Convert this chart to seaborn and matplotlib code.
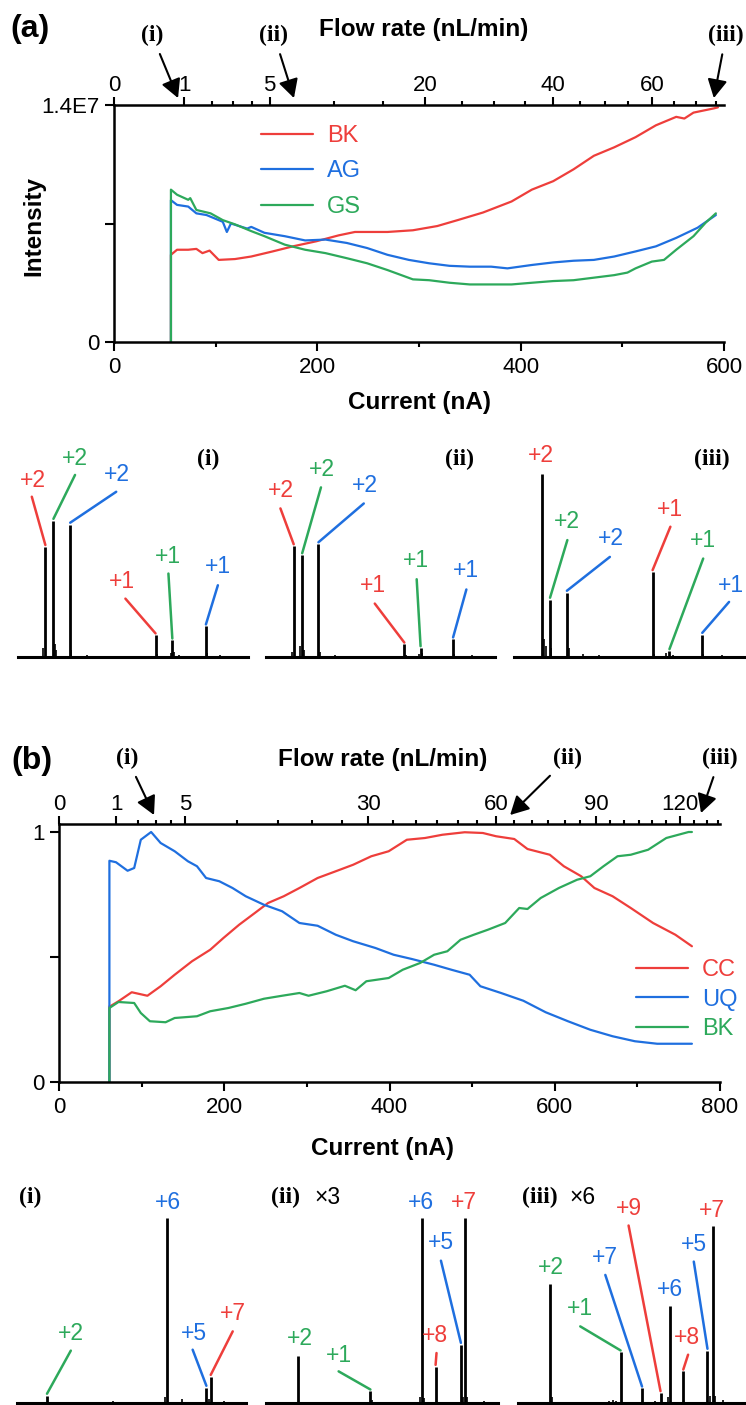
import numpy as np
import pandas as pd
import matplotlib
matplotlib.use("Agg")
import matplotlib.pyplot as plt
import seaborn as sns

# ------------------------------------------------------------------ data
# flow-rate calibration: current (nA) at which each flow value (nL/min) falls
flow_cal = [0, 1, 2, 3, 4, 5, 10, 15, 20, 25, 30, 35, 40, 45, 50, 55, 60, 65, 70,
            75, 80, 85, 90, 95, 100, 105, 110, 115, 120, 125, 130, 135]
current_cal = [0, 69, 96, 117, 136, 153, 216, 265, 306, 342, 374, 404, 432, 458, 483,
               506, 529, 551, 572, 592, 613, 631, 650, 667, 684, 702, 718, 735, 752,
               769, 784, 798]
flow_major_a = [0, 1, 5, 20, 40, 60]
flow_major_b = [0, 1, 5, 30, 60, 90, 120]

# panel (a): intensity (x1e6) vs current (nA)
a_series = ["BK", "AG", "GS"]
a_bk_cur = [56, 56, 62, 73, 81, 87, 94, 103, 119, 135, 156, 176, 199, 221, 237, 269, 294,
            318, 338, 363, 391, 411, 432, 452, 472, 492, 513, 533, 553, 561, 570, 590, 594]
a_bk_int = [0, 5.15, 5.45, 5.45, 5.5, 5.25, 5.4, 4.85, 4.9, 5.05, 5.35, 5.65, 5.95, 6.3, 6.5,
            6.5, 6.6, 6.85, 7.2, 7.65, 8.3, 9.0, 9.5, 10.2, 11.0, 11.5, 12.1, 12.8, 13.3,
            13.2, 13.55, 13.8, 13.86]
a_ag_cur = [56, 56, 62, 73, 81, 91, 107, 111, 115, 131, 135, 148, 168, 188, 208, 229, 249,
            269, 290, 310, 330, 350, 371, 387, 411, 432, 452, 472, 492, 513, 533, 553, 574, 592]
a_ag_int = [0, 8.38, 8.1, 8.0, 7.6, 7.5, 7.1, 6.5, 7.0, 6.7, 6.8, 6.45, 6.25, 6.0, 6.05, 5.85,
            5.55, 5.15, 4.85, 4.65, 4.5, 4.45, 4.45, 4.35, 4.55, 4.7, 4.8, 4.85, 5.05, 5.35,
            5.65, 6.15, 6.75, 7.5]
a_gs_cur = [56, 56, 62, 73, 75, 81, 95, 107, 119, 135, 148, 168, 188, 208, 229, 249, 269, 294,
            310, 330, 350, 371, 391, 411, 432, 452, 472, 492, 505, 513, 529, 541, 553, 570,
            582, 592]
a_gs_int = [0, 9.0, 8.7, 8.4, 8.5, 7.8, 7.6, 7.2, 6.95, 6.55, 6.25, 5.75, 5.45, 5.25, 4.95,
            4.65, 4.25, 3.7, 3.65, 3.5, 3.4, 3.4, 3.4, 3.5, 3.6, 3.65, 3.8, 3.95, 4.1, 4.35,
            4.75, 4.85, 5.45, 6.25, 7.05, 7.6]

# panel (b): normalised intensity vs current (nA)
b_series = ["CC", "UQ", "BK"]
b_cc_cur = [61, 61, 62, 72, 88, 107, 123, 140, 161, 183, 199, 218, 237, 253, 272, 291, 313,
            335, 356, 378, 399, 421, 443, 464, 491, 513, 529, 551, 567, 594, 611, 632, 648,
            670, 692, 719, 746, 766]
b_cc_val = [0, 0.303, 0.303, 0.323, 0.359, 0.345, 0.383, 0.429, 0.483, 0.529, 0.576, 0.629,
            0.676, 0.716, 0.743, 0.776, 0.816, 0.843, 0.869, 0.903, 0.923, 0.969, 0.976,
            0.989, 0.999, 0.996, 0.983, 0.972, 0.932, 0.909, 0.863, 0.823, 0.776, 0.743,
            0.696, 0.636, 0.589, 0.543]
b_uq_cur = [61, 61, 69, 83, 91, 99, 111.5, 123, 140, 156, 167, 178, 194, 210, 226, 248, 270,
            291, 313, 335, 356, 383, 405, 427, 454, 475, 497, 510, 535, 562, 589, 616, 643,
            670, 697, 724, 766]
b_uq_val = [0, 0.885, 0.879, 0.845, 0.856, 0.969, 1.0, 0.956, 0.923, 0.883, 0.863, 0.816,
            0.803, 0.776, 0.743, 0.709, 0.683, 0.636, 0.625, 0.589, 0.563, 0.536, 0.509,
            0.492, 0.469, 0.449, 0.429, 0.383, 0.356, 0.325, 0.279, 0.243, 0.209, 0.183,
            0.163, 0.153, 0.153]
b_bk_cur = [61, 61, 72, 91, 99, 110, 129, 140, 167, 183, 205, 226, 248, 270, 291, 302, 324,
            346, 359, 372, 399, 416, 437, 454, 470, 486, 502, 519, 540, 557, 567, 583, 605,
            627, 643, 659, 676, 692, 713, 735, 762, 766]
b_bk_val = [0, 0.296, 0.32, 0.316, 0.276, 0.243, 0.239, 0.256, 0.263, 0.283, 0.296, 0.313,
            0.333, 0.345, 0.356, 0.345, 0.363, 0.385, 0.367, 0.403, 0.416, 0.449, 0.476,
            0.509, 0.523, 0.569, 0.589, 0.609, 0.636, 0.696, 0.692, 0.736, 0.776, 0.809,
            0.823, 0.863, 0.903, 0.909, 0.929, 0.976, 1.0, 1.0]

# mass spectra (relative m/z 0-1000, relative intensity; 100 = tallest peak of the row)
sa1_mz = [119, 154, 227, 598, 671, 817]
sa1_int = [60.2, 74.5, 72.4, 11.9, 9.1, 16.8]
sa1_lab = ["+2", "+2", "+2", "+1", "+1", "+1"]
sa1_sp = ["r", "g", "b", "r", "g", "b"]
sa1_minor_mz = [110, 160, 166, 232, 300, 605, 665, 678, 700, 822, 880]
sa1_minor_int = [5, 7, 4, 4, 1, 1.5, 2, 3, 1, 2, 1]

sa2_mz = [121, 158, 229, 604, 675, 817]
sa2_int = [60.6, 55.7, 61.7, 6.9, 4.9, 9.7]
sa2_lab = ["+2", "+2", "+2", "+1", "+1", "+1"]
sa2_sp = ["r", "g", "b", "r", "g", "b"]
sa2_minor_mz = [112, 150, 164, 234, 300, 610, 668, 682, 822, 900]
sa2_minor_int = [3, 6, 4, 3, 1, 1, 1.5, 2, 1.5, 1]

sa3_mz = [121, 156, 229, 600, 673, 815]
sa3_int = [100, 31.4, 35.2, 46.5, 3.3, 12.2]
sa3_lab = ["+2", "+2", "+2", "+1", "+1", "+1"]
sa3_sp = ["r", "g", "b", "r", "g", "b"]
sa3_minor_mz = [130, 138, 162, 236, 300, 370, 606, 660, 690, 820, 900]
sa3_minor_int = [10, 6, 5, 5, 1.5, 1, 1.5, 2, 1, 1.5, 1]

sb1_mz = [131, 656, 827, 846]
sb1_int = [4.0, 100, 8.3, 14.2]
sb1_lab = ["+2", "+6", "+5", "+7"]
sb1_sp = ["g", "b", "b", "r"]
sb1_minor_mz = [200, 260, 330, 370, 420, 470, 646, 719, 838, 905]
sb1_minor_int = [0.6, 0.8, 0.6, 0.8, 0.9, 0.6, 3.0, 2.2, 2.0, 1.2]

sb2_mz = [140, 450, 671, 731, 840, 858]
sb2_int = [25.2, 6.3, 100, 19.6, 31.5, 100]
sb2_lab = ["+2", "+1", "+6", "+8", "+5", "+7"]
sb2_sp = ["g", "g", "b", "r", "b", "r"]
sb2_minor_mz = [300, 455, 540, 620, 663, 680, 850, 868, 940]
sb2_minor_int = [0.6, 1.5, 0.8, 0.6, 3.0, 2.5, 3.0, 3.0, 1.0]

sb3_mz = [140, 450, 544, 625, 667, 725, 831, 856]
sb3_int = [64.1, 27.4, 7.9, 5.4, 52.3, 17.1, 28.3, 95.9]
sb3_lab = ["+2", "+1", "+7", "+9", "+6", "+8", "+5", "+7"]
sb3_sp = ["g", "g", "b", "r", "b", "r", "b", "r"]
sb3_minor_mz = [148, 400, 415, 430, 600, 660, 840, 866, 900, 950]
sb3_minor_int = [3, 1, 1.5, 1, 1, 3, 4, 4, 1.5, 0.8]

# ------------------------------------------------------------------ layout (label placement)
sa1_txt = [(63, 96.7), (248, 108.6), (431, 100.0), (452, 41.4), (650, 54.7), (869, 49.3)]
sa1_end = [(60, 87.6), (248, 99.5), (427, 90.3), (467, 31.9), (654, 45.6), (869, 39.2)]
sa2_txt = [(64, 90.9), (244, 102.6), (431, 94.0), (465, 39.2), (656, 52.6), (875, 47.1)]
sa2_end = [(63, 81.2), (240, 92.7), (427, 83.9), (475, 29.2), (658, 42.5), (875, 36.9)]
sa3_txt = [(115, 109.9), (231, 73.9), (419, 64.8), (677, 80.7), (819, 63.9), (938, 39.2)]
sa3_end = [None, (231, 63.9), (415, 54.7), (677, 71.2), (819, 53.8), (931, 30.1)]
sb1_txt = [(235, 37.3), (660, 108.1), (771, 37.3), (942, 48.1)]
sb1_end = [(235, 28.3), None, (767, 28.8), (942, 38.7)]
sb2_txt = [(144, 35.0), (315, 25.9), (669, 108.1), (727, 36.4), (754, 86.5), (854, 108.1)]
sb2_end = [None, (313, 17.1), None, (735, 27.0), (754, 76.9), None]
sb3_txt = [(142, 73.3), (271, 50.8), (383, 78.7), (488, 104.9), (667, 61.6), (742, 35.5),
           (771, 85.9), (850, 104.0)]
sb3_end = [None, (273, 41.4), (383, 69.2), (485, 95.9), None, (746, 26.1), (771, 76.4), None]

# ------------------------------------------------------------------ style
RED, BLUE, GREEN = "#EE3E3B", "#1F6FDF", "#2DA95B"
SP = {"r": RED, "b": BLUE, "g": GREEN}
sns.set_theme(style="white", rc={"axes.edgecolor": "black", "text.color": "black",
                                 "xtick.color": "black", "ytick.color": "black",
                                 "axes.labelcolor": "black"})
plt.rcParams["font.family"] = ["Liberation Sans", "DejaVu Sans"]
SERIF = ["Liberation Serif", "DejaVu Serif"]
FS = 16        # tick labels
FS_LAB = 17.5  # bold axis titles
FS_ANN = 16.5  # charge-state labels
FS_LEG = 17
FS_ROM = 17

W, H = 746, 1405
fig = plt.figure(figsize=(W / 100, H / 100), dpi=100)


def fx(px):
    return px / W


def fy(py):
    return 1 - py / H


def box(l, t, r, b):
    return [fx(l), fy(b), (r - l) / W, (b - t) / H]


def main_panel(ax, frames, names, palette, xmax, ytop, yticks, yticklabels,
               flow_major, minor_x, major_x):
    df = pd.concat(frames, ignore_index=True)
    sns.lineplot(data=df, x="Current", y="Value", hue="Series", hue_order=names,
                 palette=palette, estimator=None, sort=False, lw=1.6, legend=False, ax=ax)
    ax.set_xlim(0, xmax)
    ax.set_ylim(0, ytop)
    ax.set_xticks(major_x)
    ax.set_xticks(minor_x, minor=True)
    ax.set_yticks(yticks)
    ax.set_yticklabels(yticklabels)
    ax.set_ylabel("")
    for s in ["top", "right"]:
        ax.spines[s].set_visible(False)
    for s in ["left", "bottom"]:
        ax.spines[s].set_linewidth(1.8)
    ax.tick_params(which="major", direction="out", length=6.5, width=1.5, labelsize=FS,
                   pad=4, bottom=True, left=True)
    ax.tick_params(which="minor", direction="out", length=3.5, width=1.5, bottom=True)
    # secondary flow-rate axis on top
    top = ax.twiny()
    top.set_xlim(0, xmax)
    maj = np.interp(flow_major, flow_cal, current_cal)
    mins = [np.interp(f, flow_cal, current_cal) for f in flow_cal if f not in flow_major]
    mins = [m for m in mins if m <= xmax]
    top.set_xticks(maj)
    top.set_xticklabels([str(f) for f in flow_major])
    top.set_xticks(mins, minor=True)
    for s in ["left", "right", "bottom"]:
        top.spines[s].set_visible(False)
    top.spines["top"].set_linewidth(1.8)
    top.tick_params(axis="x", which="major", direction="out", length=6, width=1.5,
                    labelsize=FS, pad=0.5, top=True, bottom=False, labeltop=True)
    top.tick_params(axis="x", which="minor", direction="out", length=3, width=1.5,
                    top=True, bottom=False)
    top.grid(False)
    ax.grid(False)
    return top


def spectrum(ax, mz, inten, minor_mz, minor_int, labels, species, txt, ends, ytop):
    ax.vlines(minor_mz, 0, minor_int, color="black", lw=1.2)
    ax.vlines(mz, 0, inten, color="black", lw=2.0)
    for i, (lab, sp, (tx, ty), e) in enumerate(zip(labels, species, txt, ends)):
        ax.text(tx, ty, lab, color=SP[sp], ha="center", va="center", fontsize=FS_ANN)
        if e is not None:
            ax.plot([mz[i], e[0]], [inten[i] + 1, e[1]], color=SP[sp], lw=1.8)
    ax.set_xlim(0, 1000)
    ax.set_ylim(0, ytop)
    ax.set_xticks([])
    ax.set_yticks([])
    for s in ["top", "left", "right"]:
        ax.spines[s].set_visible(False)
    ax.spines["bottom"].set_linewidth(2.2)
    ax.set_facecolor("none")


def frame(cur, val, name):
    return pd.DataFrame({"Current": cur, "Value": val, "Series": name})


# ------------------------------------------------------------------ panel (a)
ax_a = fig.add_axes(box(114, 105, 724, 342))
top_a = main_panel(ax_a,
                   [frame(a_bk_cur, a_bk_int, "BK"), frame(a_ag_cur, a_ag_int, "AG"),
                    frame(a_gs_cur, a_gs_int, "GS")],
                   a_series, {"BK": RED, "AG": BLUE, "GS": GREEN}, 600, 14,
                   [0, 7, 14], ["0", "", "1.4E7"], flow_major_a,
                   [100, 300, 500], [0, 200, 400, 600])
ax_a.set_xlabel("Current (nA)", fontsize=FS_LAB, weight="bold")
ax_a.xaxis.set_label_coords(0.5, -0.205)
ax_a.set_ylabel("Intensity", fontsize=FS_LAB, weight="bold")
ax_a.yaxis.set_label_coords(-0.112, 0.49)
top_a.set_xlabel("Flow rate (nL/min)", fontsize=FS_LAB, weight="bold")
top_a.xaxis.set_label_coords(0.507, 1.29)
ax_a.legend(ax_a.get_lines()[:3], a_series, loc="upper left",
            bbox_to_anchor=(fx(261), fy(125)), bbox_transform=fig.transFigure,
            frameon=False, labelcolor="linecolor", handlelength=2.2, handletextpad=0.6,
            labelspacing=0.57, borderpad=0, borderaxespad=0, fontsize=FS_LEG)

arrow_kw = dict(arrowstyle="-|>,head_length=0.75,head_width=0.4", color="black", lw=1.5,
                shrinkA=4, shrinkB=0, mutation_scale=15)
for lab, cur, tx in [("(i)", 63, 152), ("(ii)", 177, 274), ("(iii)", 590, 726)]:
    ax_a.annotate(lab, xy=(cur, 14.41), xycoords="data", xytext=(fx(tx), fy(35)),
                  textcoords="figure fraction", ha="center", va="center", fontsize=FS_ROM,
                  weight="bold", family=SERIF, arrowprops=arrow_kw, annotation_clip=False)
fig.text(fx(30), fy(29), "(a)", fontsize=23, weight="bold", ha="center", va="center")

# spectra row (a)
ytop_a = 118.6
for (l, r), args, plab in [
        ((18, 248), (sa1_mz, sa1_int, sa1_minor_mz, sa1_minor_int, sa1_lab, sa1_sp, sa1_txt, sa1_end), ("(i)", 827)),
        ((266, 495), (sa2_mz, sa2_int, sa2_minor_mz, sa2_minor_int, sa2_lab, sa2_sp, sa2_txt, sa2_end), ("(ii)", 844)),
        ((514, 745), (sa3_mz, sa3_int, sa3_minor_mz, sa3_minor_int, sa3_lab, sa3_sp, sa3_txt, sa3_end), ("(iii)", 857))]:
    sax = fig.add_axes(box(l, 440, r, 657))
    spectrum(sax, *args, ytop_a)
    sax.text(plab[1], 108.2, plab[0], ha="center", va="center", fontsize=FS_ROM,
             weight="bold", family=SERIF)

# ------------------------------------------------------------------ panel (b)
ax_b = fig.add_axes(box(59, 824, 720, 1082))
top_b = main_panel(ax_b,
                   [frame(b_cc_cur, b_cc_val, "CC"), frame(b_uq_cur, b_uq_val, "UQ"),
                    frame(b_bk_cur, b_bk_val, "BK")],
                   b_series, {"CC": RED, "UQ": BLUE, "BK": GREEN}, 800, 1.032,
                   [0, 0.5, 1], ["0", "", "1"], flow_major_b,
                   [100, 300, 500, 700], [0, 200, 400, 600, 800])
ax_b.set_xlabel("Current (nA)", fontsize=FS_LAB, weight="bold")
ax_b.xaxis.set_label_coords(0.489, -0.213)
top_b.set_xlabel("Flow rate (nL/min)", fontsize=FS_LAB, weight="bold")
top_b.xaxis.set_label_coords(0.49, 1.225)
ax_b.legend(ax_b.get_lines()[:3], b_series, loc="upper left",
            bbox_to_anchor=(fx(636), fy(959)), bbox_transform=fig.transFigure,
            frameon=False, labelcolor="linecolor", handlelength=2.2, handletextpad=0.6,
            labelspacing=0.32, borderpad=0, borderaxespad=0, fontsize=FS_LEG)
for lab, cur, yh, tx in [("(i)", 115, 1.068, 127), ("(ii)", 546, 1.068, 568),
                         ("(iii)", 777, 1.076, 720)]:
    ax_b.annotate(lab, xy=(cur, yh), xycoords="data", xytext=(fx(tx), fy(758)),
                  textcoords="figure fraction", ha="center", va="center", fontsize=FS_ROM,
                  weight="bold", family=SERIF, arrowprops=arrow_kw, annotation_clip=False)
fig.text(fx(32), fy(761), "(b)", fontsize=23, weight="bold", ha="center", va="center")

# spectra row (b)
ytop_b = 120.5
for (l, r), args, plab in [
        ((17, 246), (sb1_mz, sb1_int, sb1_minor_mz, sb1_minor_int, sb1_lab, sb1_sp, sb1_txt, sb1_end), ("(i)", 10, None, None)),
        ((266, 498), (sb2_mz, sb2_int, sb2_minor_mz, sb2_minor_int, sb2_lab, sb2_sp, sb2_txt, sb2_end), ("(ii)", 21, "×3", 208)),
        ((518, 746), (sb3_mz, sb3_int, sb3_minor_mz, sb3_minor_int, sb3_lab, sb3_sp, sb3_txt, sb3_end), ("(iii)", 17, "×6", 226))]:
    sax = fig.add_axes(box(l, 1180, r, 1403))
    spectrum(sax, *args, ytop_b)
    sax.text(plab[1], 111.2, plab[0], ha="left", va="center", fontsize=FS_ROM,
             weight="bold", family=SERIF)
    if plab[2]:
        sax.text(plab[3], 111.2, plab[2], ha="left", va="center", fontsize=FS_ANN)

fig.savefig("out.png", dpi=100)
